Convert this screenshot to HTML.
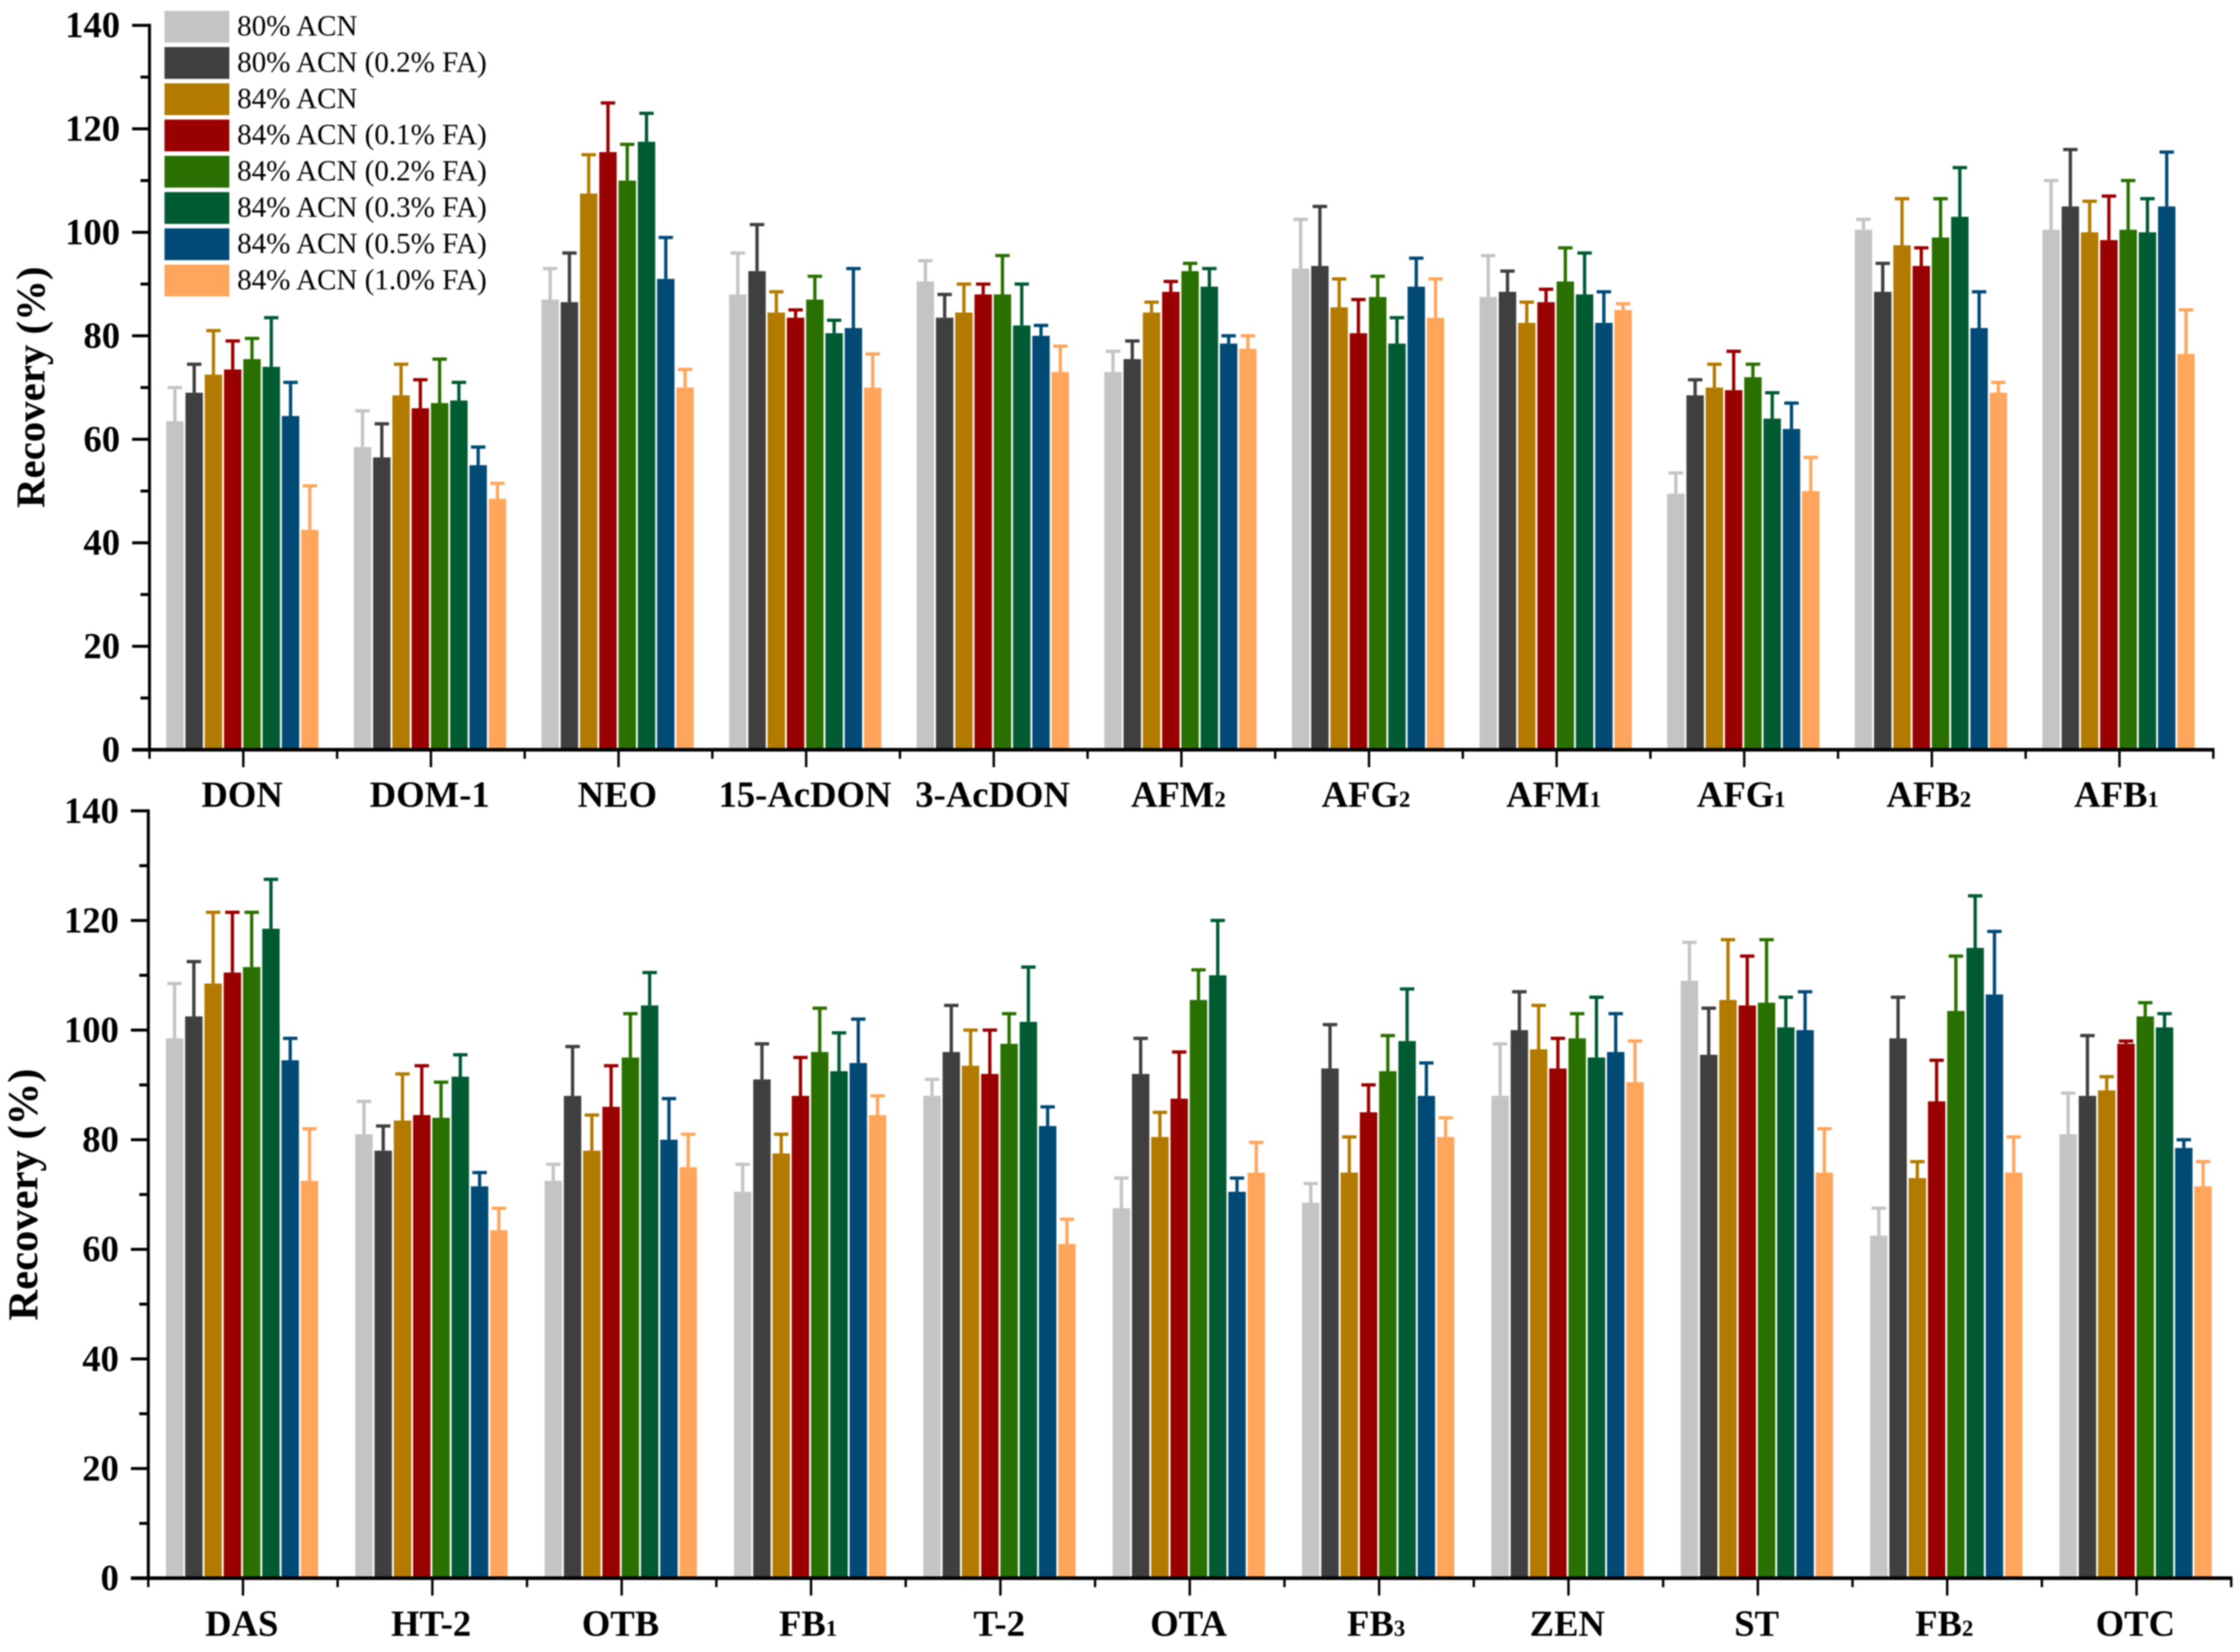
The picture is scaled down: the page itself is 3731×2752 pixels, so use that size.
<!DOCTYPE html>
<html lang="en">
<head>
<meta charset="utf-8">
<title>Recovery chart</title>
<style>
html,body{margin:0;padding:0;background:#fff;}
svg{display:block;font-family:"Liberation Serif",serif;filter:blur(1px);}
</style>
</head>
<body>
<svg id="figure" xmlns="http://www.w3.org/2000/svg" width="3731" height="2752" viewBox="0 0 3731 2752">
<rect width="3731" height="2752" fill="#ffffff"/>
</svg>
<script>
const seriesNames = ['80% ACN','80% ACN (0.2% FA)','84% ACN','84% ACN (0.1% FA)','84% ACN (0.2% FA)','84% ACN (0.3% FA)','84% ACN (0.5% FA)','84% ACN (1.0% FA)'];
const seriesColors = ['#c4c4c4','#3f3f3f','#b37a00','#990000','#2a7000','#005a32','#004a75','#ffa65c'];
const yTickLabels = [0,20,40,60,80,100,120,140];
const yMinorTicks = [10,30,50,70,90,110,130];

const topCategories = ['DON','DOM-1','NEO','15-AcDON','3-AcDON','AFM_2','AFG_2','AFM_1','AFG_1','AFB_2','AFB_1'];
const topValues = [
 [63.5,69,72.5,73.5,75.5,74,64.5,42.5],
 [58.5,56.5,68.5,66,67,67.5,55,48.5],
 [87,86.5,107.5,115.5,110,117.5,91,70],
 [88,92.5,84.5,83.5,87,80.5,81.5,70],
 [90.5,83.5,84.5,88,88,82,80,73],
 [73,75.5,84.5,88.5,92.5,89.5,78.5,77.5],
 [93,93.5,85.5,80.5,87.5,78.5,89.5,83.5],
 [87.5,88.5,82.5,86.5,90.5,88,82.5,85],
 [49.5,68.5,70,69.5,72,64,62,50],
 [100.5,88.5,97.5,93.5,99,103,81.5,69],
 [100.5,105,100,98.5,100.5,100,105,76.5]
];
const topUpper = [
 [70,74.5,81,79,79.5,83.5,71,51],
 [65.5,63,74.5,71.5,75.5,71,58.5,51.5],
 [93,96,115,125,117,123,99,73.5],
 [96,101.5,88.5,85,91.5,83,93,76.5],
 [94.5,88,90,90,95.5,90,82,78],
 [77,79,86.5,90.5,94,93,80,80],
 [102.5,105,91,87,91.5,83.5,95,91],
 [95.5,92.5,86.5,89,97,96,88.5,86.2],
 [53.5,71.5,74.5,77,74.5,69,67,56.5],
 [102.5,94,106.5,97,106.5,112.5,88.5,71],
 [110,116,106,107,110,106.5,115.5,85]
];

const bottomCategories = ['DAS','HT-2','OTB','FB_1','T-2','OTA','FB_3','ZEN','ST','FB_2','OTC'];
const bottomValues = [
 [98.5,102.5,108.5,110.5,111.5,118.5,94.5,72.5],
 [81,78,83.5,84.5,84,91.5,71.5,63.5],
 [72.5,88,78,86,95,104.5,80,75],
 [70.5,91,77.5,88,96,92.5,94,84.5],
 [88,96,93.5,92,97.5,101.5,82.5,61],
 [67.5,92,80.5,87.5,105.5,110,70.5,74],
 [68.5,93,74,85,92.5,98,88,80.5],
 [88,100,96.5,93,98.5,95,96,90.5],
 [109,95.5,105.5,104.5,105,100.5,100,74],
 [62.5,98.5,73,87,103.5,115,106.5,74],
 [81,88,89,97.5,102.5,100.5,78.5,71.5]
];
const bottomUpper = [
 [108.5,112.5,121.5,121.5,121.5,127.5,98.5,82],
 [87,82.5,92,93.5,90.5,95.5,74,67.5],
 [75.5,97,84.5,93.5,103,110.5,87.5,81],
 [75.5,97.5,81,95,104,99.5,102,88],
 [91,104.5,100,100,103,111.5,86,65.5],
 [73,98.5,85,96,111,120,73,79.5],
 [72,101,80.5,90,99,107.5,94,84],
 [97.5,107,104.5,98.5,103,106,103,98],
 [116,104,116.5,113.5,116.5,106,107,82],
 [67.5,106,76,94.5,113.5,124.5,118,80.5],
 [88.5,99,91.5,98,105,103,80,76]
];

const svg = document.getElementById('figure');
const NS = 'http://www.w3.org/2000/svg';

function make(tag, attrs, parent) {
  const node = document.createElementNS(NS, tag);
  for (const k in attrs) node.setAttribute(k, attrs[k]);
  (parent || svg).appendChild(node);
  return node;
}

function addLabel(parent, raw, attrs) {
  const t = make('text', attrs, parent);
  const parts = String(raw).split('_');
  t.appendChild(document.createTextNode(parts[0]));
  if (parts[1]) {
    const s = make('tspan', {'font-size': parseFloat(attrs['font-size']) * 0.62}, t);
    s.textContent = parts[1];
  }
  return t;
}

function drawChart(cfg) {
  const yScale = v => cfg.y0 - v * cfg.unit;
  const xScale = i => cfg.xLeft + cfg.groupStep * (i + 0.5);
  const barX = (i, s) => xScale(i) + (s - 4) * 32.1;

  const group = make('g', {});
  
  

  cfg.values.forEach((row, i) => {
    row.forEach((v, s) => {
      const cx = barX(i, s) + 14.5;
      const color = seriesColors[s];
      const err = make('line', {x1: cx, x2: cx, y1: yScale(v), y2: yScale(cfg.upper[i][s]), stroke: color, 'stroke-width': 5.5}, group);
      
      
      const cap = make('line', {x1: cx - 12, x2: cx + 12, y1: yScale(cfg.upper[i][s]), y2: yScale(cfg.upper[i][s]), stroke: color, 'stroke-width': 5.5}, group);
      
      
      const bar = make('rect', {x: barX(i, s), y: yScale(v), width: 29, height: cfg.y0 - yScale(v), fill: color}, group);
      
      
    });
  });

  const xRight = cfg.xLeft + cfg.groupStep * cfg.categories.length;
  const yAxis = make('line', {x1: cfg.xLeft, x2: cfg.xLeft, y1: yScale(140) - 2.5, y2: cfg.y0, stroke: '#000', 'stroke-width': 5}, group);
  
  
  const xAxis = make('line', {x1: cfg.xLeft - 29, x2: xRight + 2, y1: cfg.y0, y2: cfg.y0, stroke: '#000', 'stroke-width': 6}, group);
  
  

  yTickLabels.forEach(v => {
    const tick = make('line', {x1: cfg.xLeft - 29, x2: cfg.xLeft, y1: yScale(v), y2: yScale(v), stroke: '#000', 'stroke-width': 5}, group);
    
    
    const label = addLabel(group, v, {x: cfg.xLeft - 49, y: yScale(v) + 20, 'text-anchor': 'end', 'font-size': 61, 'font-weight': 'bold', fill: '#000'});
    
    
  });
  yMinorTicks.forEach(v => {
    const tick = make('line', {x1: cfg.xLeft - 15, x2: cfg.xLeft, y1: yScale(v), y2: yScale(v), stroke: '#000', 'stroke-width': 5}, group);
    
    
  });

  cfg.categories.forEach((c, i) => {
    const major = make('line', {x1: xScale(i), x2: xScale(i), y1: cfg.y0, y2: cfg.y0 + 29, stroke: '#000', 'stroke-width': 4}, group);
    
    
    const labelShift = String(c).indexOf('_') >= 0 ? -5 : -2;
    const label = addLabel(group, c, {x: xScale(i) + labelShift, y: cfg.labelY, 'text-anchor': 'middle', 'font-size': 61, 'font-weight': 'bold', fill: '#000'});
    
    
  });
  for (let i = 0; i <= cfg.categories.length; i++) {
    const bx = cfg.xLeft + cfg.groupStep * i;
    const minor = make('line', {x1: bx, x2: bx, y1: cfg.y0, y2: cfg.y0 + 15, stroke: '#000', 'stroke-width': 4}, group);
    
    
  }

  const title = make('text', {transform: 'translate(' + cfg.titleX + ',' + cfg.titleY + ') rotate(-90)', 'text-anchor': 'middle', 'font-size': cfg.titleSize, 'font-weight': 'bold', fill: '#000'}, group);
  title.textContent = 'Recovery (%)';
  
  
}

drawChart({name: 'top-chart', categories: topCategories, values: topValues, upper: topUpper,
  xLeft: 249, groupStep: 312.5, y0: 1249, unit: 8.62, labelY: 1344, titleX: 74, titleY: 645, titleSize: 68});
drawChart({name: 'bottom-chart', categories: bottomCategories, values: bottomValues, upper: bottomUpper,
  xLeft: 247, groupStep: 315.4, y0: 2629, unit: 9.13, labelY: 2725, titleX: 62, titleY: 1990, titleSize: 71});

const legend = make('g', {});


seriesNames.forEach((name, s) => {
  const swatch = make('rect', {x: 274, y: 18 + s * 60.4, width: 108, height: 53, fill: seriesColors[s]}, legend);
  
  
  const text = make('text', {x: 395, y: 59 + s * 60.4, 'font-size': 48.4, fill: '#000'}, legend);
  text.textContent = name;
  
  
});
</script>
</body>
</html>
